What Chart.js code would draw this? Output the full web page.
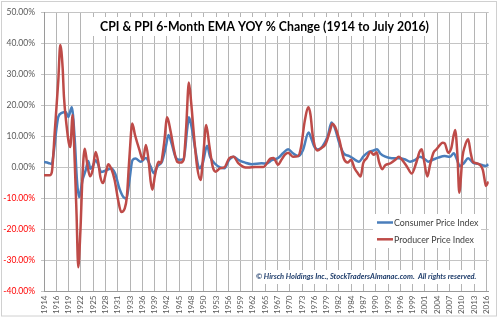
<!DOCTYPE html>
<html>
<head>
<meta charset="utf-8">
<script src="https://cdn.jsdelivr.net/npm/chart.js@4/dist/chart.umd.min.js"></script>
<style>
  html, body { margin: 0; padding: 0; background: #fff; }
  #wrap { width: 500px; height: 322px; }
</style>
</head>
<body>
<div id="wrap"><canvas id="myChart" width="500" height="322"></canvas></div>
<script>
var tickLabels = ["1914","1916","1919","1922","1925","1928","1931","1933","1936","1939","1942","1945","1948","1950","1953","1956","1959","1962","1965","1967","1970","1973","1976","1979","1982","1984","1987","1990","1993","1996","1999","2001","2004","2007","2010","2013","2016"];

// Consumer Price Index, 6-month EMA of YoY % change
var cpiYears = [1914.0,1915.0,1915.8,1916.1,1917.3,1918.1,1919.0,1919.6,1920.4,1921.1,1921.6,1922.1,1922.9,1923.6,1924.2,1924.7,1925.3,1925.9,1926.4,1927.2,1928.3,1929.5,1930.4,1931.4,1932.3,1933.0,1933.7,1934.4,1935.1,1936.3,1937.5,1938.6,1939.3,1940.2,1941.2,1942.1,1942.7,1943.4,1944.3,1945.1,1946.2,1947.0,1947.4,1948.0,1948.9,1949.8,1950.6,1951.6,1952.3,1953.3,1954.6,1955.6,1956.7,1957.7,1958.8,1960.4,1961.9,1964.2,1965.3,1966.5,1968.0,1969.1,1970.3,1971.4,1972.6,1973.7,1975.0,1975.6,1976.3,1977.1,1978.2,1979.4,1980.3,1981.1,1982.1,1983.2,1984.4,1985.5,1986.6,1987.7,1988.9,1990.0,1990.8,1991.5,1992.7,1994.2,1995.8,1997.3,1998.4,1999.6,2000.7,2001.9,2002.6,2003.8,2004.9,2006.4,2007.6,2008.5,2009.1,2009.9,2010.8,2011.8,2012.9,2014.1,2015.1,2015.8,2016.5];
var cpiValues = [1.7,1.4,1.0,3.3,16.2,17.5,17.8,16.2,19.3,8.7,-4.2,-9.6,-4.0,-1.0,2.0,-0.5,0.5,2.3,1.2,-1.5,-1.0,-0.4,-2.0,-6.9,-9.6,-10.1,-4.2,2.3,2.8,1.8,3.0,0.2,-1.9,0.4,1.8,6.7,10.4,7.8,3.4,2.4,2.6,12.1,16.1,13.2,5.6,-0.3,1.3,6.9,3.4,1.3,0.0,-0.3,2.4,3.4,2.4,1.5,1.0,1.3,1.2,2.3,3.0,4.5,5.8,4.5,3.6,5.5,11.2,9.4,6.7,5.7,6.7,9.9,14.4,12.5,7.7,4.3,3.6,2.6,1.8,3.6,5.0,5.4,5.8,4.5,3.4,2.9,2.9,2.5,1.8,2.4,3.4,2.5,1.8,2.5,3.1,3.6,3.4,4.5,2.9,0.4,1.3,2.9,1.5,1.1,0.7,0.4,0.9];

// Producer Price Index, 6-month EMA of YoY % change
var ppiYears = [1914.0,1915.3,1915.8,1916.5,1917.3,1917.75,1918.3,1918.6,1919.2,1919.7,1920.05,1920.6,1921.1,1921.5,1921.9,1922.4,1922.9,1923.4,1923.95,1924.6,1925.2,1925.9,1926.5,1927.0,1927.6,1928.25,1928.8,1929.5,1930.3,1931.1,1931.8,1932.6,1933.1,1933.7,1934.35,1935.0,1936.0,1936.8,1937.5,1938.1,1938.6,1939.0,1939.6,1940.4,1940.9,1941.7,1942.4,1943.2,1943.9,1944.7,1945.5,1946.2,1946.8,1947.4,1947.95,1948.6,1949.3,1950.1,1950.7,1951.4,1952.1,1952.9,1953.6,1954.6,1955.6,1956.7,1957.7,1958.8,1960.0,1961.1,1962.7,1964.6,1966.2,1966.9,1968.0,1968.7,1969.5,1970.3,1971.4,1972.6,1973.3,1974.1,1975.0,1975.45,1976.0,1977.0,1977.9,1979.0,1980.0,1980.5,1981.1,1982.1,1983.1,1984.0,1984.8,1985.6,1986.4,1987.0,1987.6,1988.4,1989.3,1990.0,1990.7,1991.3,1992.0,1992.7,1993.9,1995.0,1995.8,1996.5,1997.7,1998.8,1999.8,2000.6,2001.1,2001.6,2002.4,2003.0,2003.8,2004.5,2005.3,2005.9,2006.4,2007.2,2007.9,2008.8,2009.35,2009.75,2010.5,2011.0,2011.8,2012.4,2012.9,2013.7,2014.6,2015.2,2015.6,2015.9,2016.5];
var ppiValues = [-2.6,-2.6,-1.6,11.9,28.0,39.4,32.0,22.7,13.5,8.0,6.5,16.8,1.2,-14.9,-32.2,-20.3,-2.0,6.0,1.2,-2.9,-1.0,4.9,1.7,-3.1,-5.1,-2.0,1.0,-0.4,-4.2,-10.6,-14.4,-13.3,-9.6,3.3,14.1,10.3,5.6,2.4,7.2,2.4,-4.6,-7.2,-2.5,1.8,1.3,7.8,16.1,11.5,6.1,1.8,1.5,2.4,13.2,27.3,20.6,9.9,0.2,-4.1,3.4,13.6,7.2,0.2,-1.4,-0.3,0.0,2.9,3.4,1.3,0.1,-0.1,0.1,0.1,2.8,3.0,0.8,2.3,4.0,4.7,3.4,3.6,6.7,14.7,19.3,16.9,9.9,5.4,6.1,7.7,12.0,14.0,13.1,8.8,2.9,1.5,2.4,-0.3,-2.0,-3.0,1.3,2.9,5.0,4.0,4.8,1.5,-0.6,0.7,1.3,2.4,3.4,2.5,0.2,-2.0,1.3,5.0,5.8,2.4,-3.0,0.7,4.7,5.8,7.2,7.9,7.7,4.7,6.1,12.0,3.4,-8.2,3.4,6.6,9.0,4.5,1.8,1.3,0.7,-0.9,-4.0,-6.0,-4.6];

var titleText = "CPI & PPI 6-Month EMA YOY % Change (1914 to July 2016)";
var noteText = "\u00A9 Hirsch Holdings Inc., StockTradersAlmanac.com.  All rights reserved.";

function pairs(xs, ys) {
  return xs.map(function (x, i) { return { x: x, y: ys[i] }; });
}

// white page, outer frame, title, legend and note drawn over the plot
var overlay = {
  id: "overlay",
  beforeDraw: function (chart) {
    var c = chart.ctx;
    c.save();
    c.fillStyle = "#fff";
    c.fillRect(0, 0, chart.width, chart.height);
    c.restore();
  },
  afterDraw: function (chart) {
    var c = chart.ctx;
    c.save();
    c.strokeStyle = "#d0d0d0";
    c.lineWidth = 1;
    c.strokeRect(1.5, 1.5, 495, 314.5);

    // title
    c.fillStyle = "#fff";
    c.fillRect(92, 17, 345, 19);
    c.fillStyle = "#000";
    c.font = "bold 12.3px Lato";
    c.textAlign = "center";
    c.textBaseline = "middle";
    c.fillText(titleText, 264.5, 27);

    // legend
    c.fillStyle = "#fff";
    c.fillRect(373, 214, 108, 34);
    c.textAlign = "left";
    c.font = "8.8px Lato";
    chart.data.datasets.forEach(function (ds, i) {
      var y = 222.5 + i * 16.8;
      c.strokeStyle = ds.borderColor;
      c.lineWidth = 2.5;
      c.beginPath();
      c.moveTo(377, y);
      c.lineTo(393, y);
      c.stroke();
      c.fillStyle = "#404040";
      c.fillText(ds.label, 394, y + 0.5);
    });

    // note
    c.fillStyle = "#fff";
    c.fillRect(253, 270, 226, 14);
    c.font = "italic bold 7.5px Lato";
    c.fillStyle = "#1f3d6b";
    c.fillText(noteText, 256, 277);
    c.restore();
  }
};

new Chart("myChart", {
  type: "line",
  data: {
    datasets: [{
      label: "Consumer Price Index",
      data: pairs(cpiYears, cpiValues),
      borderColor: "#4a7ebb",
      borderWidth: 2.5,
      pointRadius: 0,
      cubicInterpolationMode: "monotone",
      fill: false,
      order: 1
    }, {
      label: "Producer Price Index",
      data: pairs(ppiYears, ppiValues),
      borderColor: "#be4b48",
      borderWidth: 2.5,
      pointRadius: 0,
      cubicInterpolationMode: "monotone",
      fill: false,
      order: 0
    }]
  },
  options: {
    responsive: false,
    animation: false,
    layout: { padding: { top: 12, right: 8, bottom: 0, left: 0 } },
    plugins: {
      legend: { display: false },
      tooltip: { enabled: false }
    },
    scales: {
      x: {
        type: "linear",
        min: 1914,
        max: 2016.55,
        afterFit: function (s) { s.height = 30.5; },
        afterBuildTicks: function (s) {
          s.ticks = tickLabels.map(function (t, i) { return { value: 1914 + i * 34 / 12 }; });
        },
        ticks: {
          autoSkip: false,
          minRotation: 90,
          maxRotation: 90,
          padding: 4,
          color: "#595959",
          font: { family: "Lato", size: 8 },
          callback: function (v, i) { return tickLabels[i]; }
        },
        grid: { color: "#b4b4b4", tickLength: 0 },
        border: { color: "#9a9a9a" }
      },
      y: {
        min: -40,
        max: 50,
        afterFit: function (s) { s.width = 44; },
        ticks: {
          stepSize: 10,
          padding: 6,
          font: { family: "Lato", size: 8.5 },
          color: function (ctx) { return ctx.tick.value < 0 ? "#ff0000" : "#595959"; },
          callback: function (v) { return v.toFixed(2) + "%"; }
        },
        grid: { color: "#c4c4c4", tickLength: 3 },
        border: { color: "#9a9a9a" }
      }
    }
  },
  plugins: [overlay]
});
</script>
</body>
</html>
